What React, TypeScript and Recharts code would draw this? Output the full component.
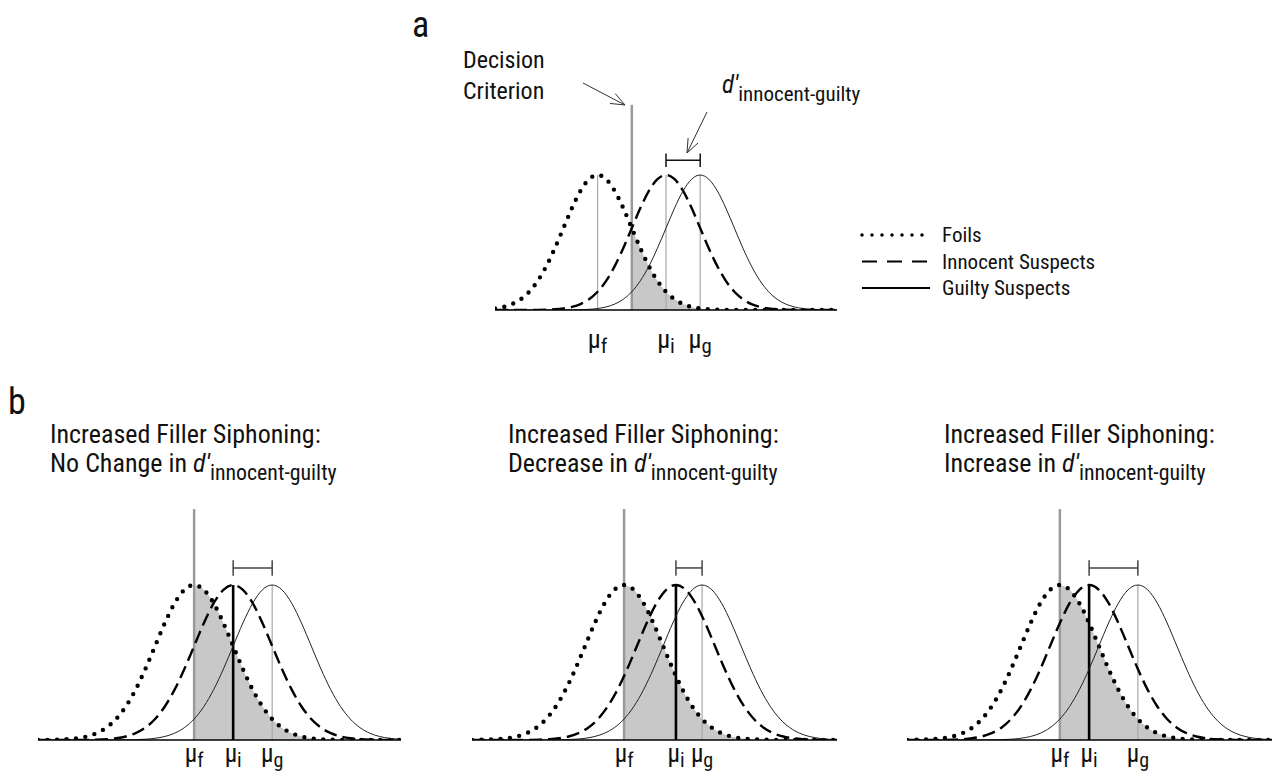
import React from 'react';
import { ComposedChart, Line, Area, XAxis, YAxis, ReferenceLine } from 'recharts';

// heights of the bell curves (peak = 1) at each quarter sd from the mean
const BELL_OFFSETS = [-4, -3.75, -3.5, -3.25, -3, -2.75, -2.5, -2.25, -2, -1.75, -1.5, -1.25, -1, -0.75, -0.5, -0.25, 0,
  0.25, 0.5, 0.75, 1, 1.25, 1.5, 1.75, 2, 2.25, 2.5, 2.75, 3, 3.25, 3.5, 3.75, 4];
const BELL_HEIGHTS = [0.0003, 0.0009, 0.0022, 0.0051, 0.0111, 0.0228, 0.0439, 0.0796, 0.1353, 0.2163, 0.3247, 0.4578,
  0.6065, 0.7548, 0.8825, 0.9692, 1, 0.9692, 0.8825, 0.7548, 0.6065, 0.4578, 0.3247, 0.2163, 0.1353, 0.0796, 0.0439,
  0.0228, 0.0111, 0.0051, 0.0022, 0.0009, 0.0003];

const SERIES_NAMES = ['Foils', 'Innocent Suspects', 'Guilty Suspects'];
const MU_SUBS = ['f', 'i', 'g'];

// means of foils / innocent / guilty, in sd units
const MEANS_A = [0, 2, 3];
const CRITERION_A = 1;
const MEANS_B1 = [0, 1, 2];
const MEANS_B2 = [0, 1.33, 2];
const MEANS_B3 = [0, 0.75, 2];
const CRITERION_B = 0;

const TITLE_TOP = 'Increased Filler Siphoning:';
const TITLES_B = ['No Change in', 'Decrease in', 'Increase in'];

const FONT = "'Liberation Sans Narrow', 'Roboto Condensed', 'DejaVu Sans Condensed', 'Liberation Sans', sans-serif";

const STYLES = [
  { stroke: '#000', strokeWidth: 4.4, strokeDasharray: '0 9.5', strokeLinecap: 'round' as const },
  { stroke: '#000', strokeWidth: 2.4, strokeDasharray: '13 6', strokeLinecap: 'butt' as const },
  { stroke: '#222', strokeWidth: 1, strokeDasharray: undefined, strokeLinecap: 'butt' as const },
];

function curve(mean: number, domain: [number, number]) {
  const pts = BELL_OFFSETS.map((o, i) => ({ x: mean + o, y: BELL_HEIGHTS[i] })).filter(
    (p) => p.x >= domain[0] && p.x <= domain[1]
  );
  if (pts[0].x > domain[0]) pts.unshift({ x: domain[0], y: 0 });
  if (pts[pts.length - 1].x < domain[1]) pts.push({ x: domain[1], y: 0 });
  return pts;
}

type PanelProps = {
  left: number;
  top: number;
  width: number;
  plotHeight: number;
  axisHeight: number;
  domain: [number, number];
  means: number[];
  criterion: number;
  criterionTop: number;
  bracketY: number;
  variant: 'a' | 'b';
  labelDy: number;
  muSize: number;
};

const Panel: React.FC<PanelProps> = (p) => {
  const curves = p.means.map((m) => curve(m, p.domain));
  const shade = curves[0].filter((pt) => pt.x >= p.criterion);
  const MuTick = (props: any) => {
    const { x, y, payload } = props;
    const idx = p.means.indexOf(payload.value);
    return (
      <text x={x} y={y + p.labelDy} textAnchor="middle" fontFamily={FONT} fontSize={p.muSize} fill="#111">
        μ
        <tspan fontSize={p.muSize * 0.8} dy={5}>{MU_SUBS[idx]}</tspan>
      </text>
    );
  };
  const bracketColor = p.variant === 'a' ? '#111' : '#444';
  return (
    <div style={{ position: 'absolute', left: p.left, top: p.top }}>
      <ComposedChart
        width={p.width}
        height={p.plotHeight + p.axisHeight}
        margin={{ top: 0, right: 0, bottom: 0, left: 0 }}
      >
        <XAxis
          dataKey="x"
          type="number"
          domain={p.domain}
          allowDataOverflow
          ticks={p.means}
          interval={0}
          tickLine={false}
          axisLine={{ stroke: '#000', strokeWidth: 1.6 }}
          tick={MuTick}
          height={p.axisHeight}
        />
        <YAxis hide type="number" domain={[0, 1.6]} allowDataOverflow />
        <Area
          data={shade}
          dataKey="y"
          type="monotone"
          fill="#c8c8c8"
          fillOpacity={1}
          stroke="none"
          isAnimationActive={false}
        />
        <ReferenceLine
          segment={[{ x: p.criterion, y: 0 }, { x: p.criterion, y: p.criterionTop }]}
          stroke="#9a9a9a"
          strokeWidth={2.5}
        />
        {p.means.map((m, i) => {
          if (p.variant === 'b' && i === 0) return null;
          const inner = p.variant === 'b' && i === 1;
          return (
            <ReferenceLine
              key={`mu-${i}`}
              segment={[{ x: m, y: 0 }, { x: m, y: 1 }]}
              stroke={inner ? '#000' : '#a8a8a8'}
              strokeWidth={inner ? 2.6 : 1.2}
            />
          );
        })}
        <ReferenceLine
          segment={[{ x: p.means[1], y: p.bracketY }, { x: p.means[2], y: p.bracketY }]}
          stroke={bracketColor}
          strokeWidth={1.5}
        />
        <ReferenceLine
          segment={[{ x: p.means[1], y: p.bracketY - 0.05 }, { x: p.means[1], y: p.bracketY + 0.05 }]}
          stroke={bracketColor}
          strokeWidth={1.5}
        />
        <ReferenceLine
          segment={[{ x: p.means[2], y: p.bracketY - 0.05 }, { x: p.means[2], y: p.bracketY + 0.05 }]}
          stroke={bracketColor}
          strokeWidth={1.5}
        />
        {curves.map((c, i) => (
          <Line
            key={SERIES_NAMES[i]}
            name={SERIES_NAMES[i]}
            data={c}
            dataKey="y"
            type="monotone"
            dot={false}
            activeDot={false}
            stroke={STYLES[i].stroke}
            strokeWidth={STYLES[i].strokeWidth}
            strokeDasharray={STYLES[i].strokeDasharray}
            strokeLinecap={STYLES[i].strokeLinecap}
            isAnimationActive={false}
          />
        ))}
      </ComposedChart>
    </div>
  );
};

const Arrow: React.FC<{ x1: number; y1: number; x2: number; y2: number }> = ({ x1, y1, x2, y2 }) => {
  const ang = Math.atan2(y2 - y1, x2 - x1);
  const len = 15;
  const spread = 0.38;
  const a1 = ang + Math.PI - spread;
  const a2 = ang + Math.PI + spread;
  return (
    <g stroke="#333" strokeWidth={1} fill="none">
      <line x1={x1} y1={y1} x2={x2} y2={y2} />
      <polyline
        points={`${x2 + len * Math.cos(a1)},${y2 + len * Math.sin(a1)} ${x2},${y2} ${x2 + len * Math.cos(a2)},${y2 + len * Math.sin(a2)}`}
      />
    </g>
  );
};

const DPrime: React.FC<{ x: number; y: number; size: number; lead?: string }> = ({ x, y, size, lead }) => (
  <text x={x} y={y} fontFamily={FONT} fontSize={size} fill="#111">
    {lead ? `${lead} ` : ''}
    <tspan fontStyle="italic">d′</tspan>
    <tspan fontSize={size * 0.84} dy={size * 0.3}>innocent-guilty</tspan>
  </text>
);

const App: React.FC = () => {
  const bPanels = [
    { left: 38, width: 363, domain: [-4, 5.3] as [number, number], means: MEANS_B1, titleX: 50 },
    { left: 472, width: 365, domain: [-3.9, 5.46] as [number, number], means: MEANS_B2, titleX: 508 },
    { left: 907, width: 365, domain: [-3.92, 5.44] as [number, number], means: MEANS_B3, titleX: 944 },
  ];
  return (
    <div
      style={{
        position: 'absolute',
        left: 0,
        top: 0,
        width: 1273,
        height: 776,
        background: '#fff',
        fontFamily: FONT,
        overflow: 'hidden',
      }}
    >
      <Panel
        left={495}
        top={94}
        width={342}
        plotHeight={216}
        axisHeight={60}
        domain={[-3, 7]}
        means={MEANS_A}
        criterion={CRITERION_A}
        criterionTop={1.52}
        bracketY={1.11}
        variant="a"
        labelDy={30}
        muSize={26}
      />
      {bPanels.map((b, i) => (
        <Panel
          key={i}
          left={b.left}
          top={492}
          width={b.width}
          plotHeight={248}
          axisHeight={40}
          domain={b.domain}
          means={b.means}
          criterion={CRITERION_B}
          criterionTop={1.49}
          bracketY={1.11}
          variant="b"
          labelDy={14}
          muSize={25}
        />
      ))}
      <svg
        width={1273}
        height={776}
        style={{ position: 'absolute', left: 0, top: 0, pointerEvents: 'none' }}
      >
        <text x={412} y={37} fontFamily={FONT} fontSize={36} fill="#111">a</text>
        <text x={463} y={68} fontFamily={FONT} fontSize={24} fill="#111">Decision</text>
        <text x={463} y={99} fontFamily={FONT} fontSize={24} fill="#111">Criterion</text>
        <Arrow x1={583} y1={83} x2={625} y2={105} />
        <DPrime x={722} y={93} size={25} />
        <Arrow x1={707} y1={112} x2={687} y2={153} />

        {SERIES_NAMES.map((name, i) => {
          const y = 235 + i * 26.5;
          return (
            <g key={name}>
              <line
                x1={862}
                x2={930}
                y1={y}
                y2={y}
                stroke="#000"
                strokeWidth={i === 0 ? 3.5 : 2}
                strokeDasharray={i === 0 ? '0 10' : i === 1 ? '15 10' : undefined}
                strokeLinecap={i === 0 ? 'round' : 'butt'}
              />
              <text x={942} y={y + 7} fontFamily={FONT} fontSize={21} fill="#111">{name}</text>
            </g>
          );
        })}

        <text x={8} y={414} fontFamily={FONT} fontSize={36} fill="#111">b</text>
        {bPanels.map((b, i) => (
          <g key={`t-${i}`}>
            <text x={b.titleX} y={443} fontFamily={FONT} fontSize={26} fill="#111">{TITLE_TOP}</text>
            <DPrime x={b.titleX} y={472} size={26} lead={TITLES_B[i]} />
          </g>
        ))}
      </svg>
    </div>
  );
};

export default App;
